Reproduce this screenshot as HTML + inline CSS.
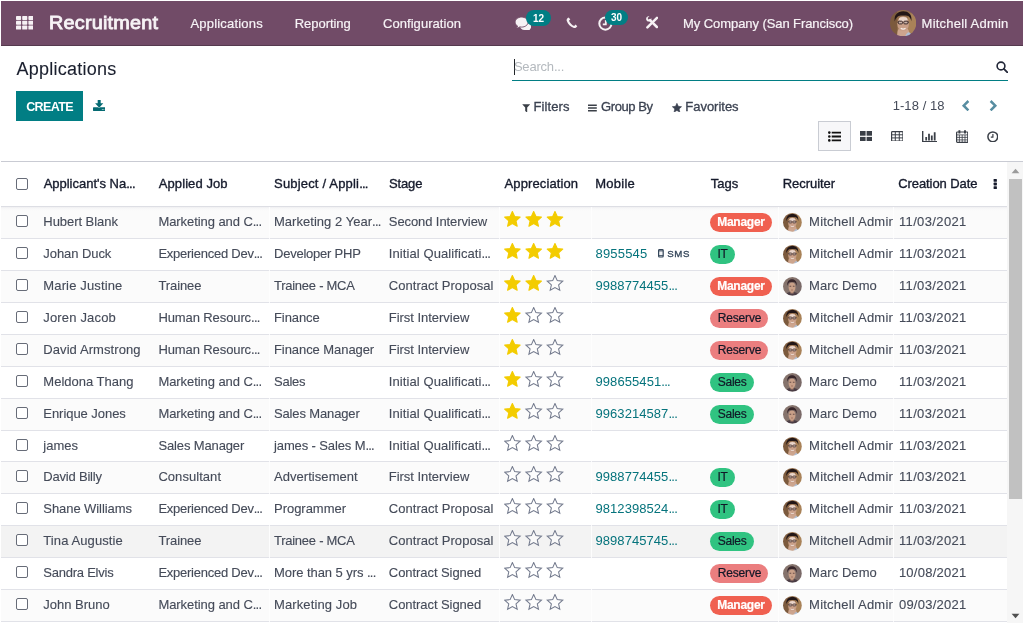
<!DOCTYPE html>
<html lang="en">
<head>
<meta charset="utf-8">
<title>Odoo - Applications</title>
<style>
*{box-sizing:border-box}
html,body{margin:0;padding:0}
body{width:1024px;height:623px;overflow:hidden;background:#fff;font-family:"Liberation Sans",Arial,sans-serif;font-size:13px;line-height:15px;color:#454b59;position:relative}
a{text-decoration:none;color:inherit}
svg{display:block}
h1,button{margin:0;font:inherit}
.abs,.nav a,.nav span,.cp a,.cp span,.cp h1,.hd span,.r span,.r a{position:absolute;white-space:nowrap}
.el{position:static!important;letter-spacing:-.75px}
/* navbar */
.nav{position:absolute;left:1px;top:1px;width:1022px;height:45px;background:#714b67;border-bottom:1px solid #553a4e;color:#f7f3f6}
.brand{font-size:18.2px;line-height:24px;color:#f7f3f6;-webkit-text-stroke:.8px #f7f3f6;transform:scaleX(1.09);transform-origin:0 50%}
.mi{-webkit-text-stroke:.2px #f7f3f6}
.badge{background:#017e84;color:#fff;font-size:10px;font-weight:bold;line-height:15px;height:15.3px;border-radius:8px;text-align:center;overflow:hidden}
/* control panel */
.cp{position:absolute;left:1px;top:46px;width:1022px;height:116px;border-bottom:1px solid #c9cbd3;background:#fff}
.cp h1{font-size:18px;line-height:24px;color:#1a1f2e;font-weight:normal;-webkit-text-stroke:.1px #1a1f2e}
.search{position:absolute;left:511px;top:8px;width:496px;height:27px;border-bottom:1px solid #017e84}
.ph{color:#b4b9be}
.caret{width:1px;height:16px;background:#212529}
.btn-create{position:absolute;left:15px;top:45px;width:67px;height:30px;background:#017e84;border:0;padding:0;color:#fff}
.btn-create span{font-weight:bold;font-size:12.5px;line-height:15px;color:#fff}
.fb{color:#3b4251;-webkit-text-stroke:.3px #3b4251}
.vact{left:817px;top:75px;width:33px;height:30px;background:#f7f7f9;border:1px solid #c9ccd3}
/* list */
.list{position:absolute;left:1px;top:162px;width:1006px;height:461px;overflow:hidden;background:#fff}
.hd{position:absolute;left:0;top:0;width:100%;height:45px;border-bottom:1px solid #dddee4}
.h{color:#161b2c;-webkit-text-stroke:.35px #161b2c}
.r{position:absolute;left:0;width:100%;border-bottom:1px solid #e1e2e8;background:#fff}
.r.odd{background:#fbfbfb}
.r.hov{background:#f3f3f3}
.r.first{background:linear-gradient(#eeeef1,#f5f5f6 1px,#f8f8f9 2px,#fbfbfb 4px)}
.cb{left:15px;top:8px;width:12px;height:12px;border:1px solid #676c78;border-radius:2px;background:#fff}
.c{-webkit-text-stroke:.12px #454b59}
.tel{color:#05737c}
.tag{height:19px;border-radius:9.5px}
.tag b{position:absolute;font-weight:normal;font-size:12px;line-height:15px;top:2px;white-space:nowrap;-webkit-text-stroke:.2px currentColor}
.tm b{font-weight:bold}
.rec{overflow:hidden;height:15px}
.sms{font-size:9.7px;line-height:12px;color:#34465a;-webkit-text-stroke:.32px #34465a}
.gap{position:absolute;top:45px;bottom:0;width:1px;background:rgba(255,255,255,.8)}
/* scrollbar */
.sb{position:absolute;left:1007px;top:162px;width:16px;height:461px;background:#f6f6f6}
.thumb{position:absolute;left:2px;top:17px;width:13px;height:320px;background:#c1c1c1}
</style>
</head>
<body>

<nav class="nav">
<a title="Home Menu" style="left:14.7px;top:15.3px"><svg width="17.6" height="13.8" viewBox="0 0 17.6 13.8" aria-hidden="true"><rect x="0" y="0" width="5.1" height="4" rx=".7" fill="#f6f1f4"/><rect x="6.2" y="0" width="5.1" height="4" rx=".7" fill="#f6f1f4"/><rect x="12.4" y="0" width="5.1" height="4" rx=".7" fill="#f6f1f4"/><rect x="0" y="4.8" width="5.1" height="4" rx=".7" fill="#f6f1f4"/><rect x="6.2" y="4.8" width="5.1" height="4" rx=".7" fill="#f6f1f4"/><rect x="12.4" y="4.8" width="5.1" height="4" rx=".7" fill="#f6f1f4"/><rect x="0" y="9.6" width="5.1" height="4" rx=".7" fill="#f6f1f4"/><rect x="6.2" y="9.6" width="5.1" height="4" rx=".7" fill="#f6f1f4"/><rect x="12.4" y="9.6" width="5.1" height="4" rx=".7" fill="#f6f1f4"/></svg></a>
<a id="t1" class="brand" style="left:48.04px;top:10px;letter-spacing:0.2px;">Recruitment</a>
<a id="t2" class="mi" style="left:189.42px;top:15px;letter-spacing:0.2px;">Applications</a>
<a id="t3" class="mi" style="left:293.73px;top:15px;letter-spacing:-0.04px;">Reporting</a>
<a id="t4" class="mi" style="left:381.95px;top:15px;letter-spacing:0.06px;">Configuration</a>
<svg style="position:absolute;left:513.8px;top:15.9px;" width="16.6" height="13.4" viewBox="0 0 16.6 13.4" aria-hidden="true"><path d="M10.7 5.6c3.1 0 5.7 1.7 5.7 3.9 0 1.1-.7 2.1-1.8 2.8.2.4.7.9 1.4 1.1-1.3.1-2.5-.1-3.5-.5-.6.1-1.2.2-1.8.2-3.1 0-5.7-1.7-5.7-3.7s2.6-3.8 5.7-3.8z" fill="#f6f1f4"/><path d="M6.6.100c3.6 0 6.5 2.2 6.5 5s-2.9 5-6.5 5c-.6 0-1.2-.1-1.8-.2-1 .8-2.3 1.2-3.6 1.2.7-.6 1.2-1.3 1.4-2C1 8.2.100 6.7.100 5.1c0-2.8 2.9-5 6.5-5z" fill="#f6f1f4" stroke="#714b67" stroke-width=".9"/></svg>
<span class="badge" style="left:525.1px;top:9px;width:24.9px;height:16px;line-height:17px">12</span>
<svg style="position:absolute;left:565.4px;top:15.9px;" width="11.6" height="11.4" viewBox="0 0 11.6 11.4" aria-hidden="true"><path d="M2.5.400C1.1 1.2.300 2.4.700 3.8 1.9 7.3 4.4 9.9 7.9 11c1.4.4 2.6-.3 3.4-1.7L9.5 7.6 8.2 8.9C6 8.2 3.7 5.8 3 3.7L4.3 2.3z" fill="#f6f1f4"/></svg>
<svg style="position:absolute;left:596.6px;top:14.8px;" width="15" height="15" viewBox="0 0 15 15" aria-hidden="true"><circle cx="7.4" cy="7.6" r="6.1" fill="none" stroke="#f6f1f4" stroke-width="2"/><path d="M7.8 4V8.3H4.8" fill="none" stroke="#f6f1f4" stroke-width="1.8"/></svg>
<span class="badge" style="left:603.8px;top:9px;width:23.6px">30</span>
<svg style="position:absolute;left:644.8px;top:15.4px;" width="12.4" height="12.8" viewBox="0 0 12.4 12.8" aria-hidden="true"><path d="M1.4 11.4L11 1.8" stroke="#f6f1f4" stroke-width="2.5" stroke-linecap="round"/><path d="M10.9 11L4 4.1" stroke="#f6f1f4" stroke-width="2.5" stroke-linecap="round"/><path d="M2.7.300C1.3.300.1 1.5.100 2.9s1.2 2.7 2.7 2.7c1.4 0 2.6-1.2 2.6-2.6 0-.3 0-.6-.1-.8L3.7 3.7 2.1 3.3 1.7 1.7 3.4.400C3.2.300 2.9.300 2.7.300z" fill="#f6f1f4"/></svg>
<a id="t5" class="mi" style="left:682.11px;top:15px;letter-spacing:-0.08px;">My Company (San Francisco)</a>
<svg style="position:absolute;left:888.8px;top:8.9px;" width="26.3" height="26.3" viewBox="0 0 24 24" aria-hidden="true"><clipPath id="cp1"><circle cx="12" cy="12" r="12"/></clipPath><filter id="bl1" x="-10%" y="-10%" width="120%" height="120%"><feGaussianBlur stdDeviation=".55"/></filter><g clip-path="url(#cp1)"><g filter="url(#bl1)"><rect width="24" height="24" fill="#916d4b"/><rect x="0" y="0" width="6.5" height="24" fill="#7c5a3d"/><rect x="16.5" y="3" width="7.5" height="18" fill="#a98258"/><path d="M4.3 10.5C3.5 4.5 7 1.2 12 1.2s8.3 3 7.5 9c-.5-2-1.3-3.6-3-4.7-2.5-.5-6-.5-8.6 0-1.9 1.2-3 2.8-3.6 5z" fill="#231718"/><path d="M6.5 24c.2-6 1-8.5 5.5-8.5s5.5 2.5 6 8.5z" fill="#cda58e"/><ellipse cx="12" cy="12.6" rx="5.3" ry="6.9" fill="#c99f88"/><ellipse cx="12" cy="8.4" rx="3.9" ry="2" fill="#ead5ca"/><rect x="7.6" y="10.2" width="3.8" height="2.5" rx=".9" fill="#c9b3a8" stroke="#3a2a2a" stroke-width=".9"/><rect x="12.6" y="10.2" width="3.8" height="2.5" rx=".9" fill="#c9b3a8" stroke="#3a2a2a" stroke-width=".9"/><path d="M6.7 11h1M16.3 11h1" stroke="#3a2a2a" stroke-width=".8"/><path d="M9.8 16.6c1.3.9 3.1.9 4.4 0" stroke="#f7efeb" stroke-width="1.1" fill="none"/><path d="M14 24c.5-2 1.5-3 3-3.6 1.5.6 3 1.6 3.5 3.6z" fill="#aebfd6"/></g></g></svg>
<a id="t6" class="mi" style="left:920.61px;top:15px;letter-spacing:0.22px;">Mitchell Admin</a>
</nav>
<header class="cp">
<h1 id="t7" style="left:15.4px;top:11px;letter-spacing:0.26px;">Applications</h1>
<div class="search">
<span class="caret" style="left:2.3px;top:5px"></span>
<span id="t8" class="ph" style="left:1.9px;top:5px;letter-spacing:-.2px;">Search...</span>
<svg style="position:absolute;left:484px;top:7px;" width="12.4" height="12.4" viewBox="0 0 12.4 12.4" aria-hidden="true"><circle cx="5" cy="5" r="3.9" fill="none" stroke="#222738" stroke-width="1.6"/><path d="M7.9 7.9L11.5 11.5" stroke="#222738" stroke-width="1.8" stroke-linecap="round"/></svg>
</div>
<button class="btn-create"><span id="t9" style="left:10.17px;top:9px;letter-spacing:-0.62px;">CREATE</span></button>
<svg style="position:absolute;left:92px;top:54.2px;" width="12.4" height="11" viewBox="0 0 12.4 11" aria-hidden="true"><rect x="0" y="7.2" width="12.3" height="3.8" rx=".5" fill="#056a72"/><path d="M4.7 0h3v3.3h2.6L6.2 7.7 2.1 3.3h2.6z" fill="#056a72" stroke="#fff" stroke-width=".9" paint-order="stroke"/><circle cx="9.3" cy="9.5" r=".5" fill="#cfeae6"/><circle cx="10.9" cy="9.5" r=".5" fill="#cfeae6"/></svg>
<svg style="position:absolute;left:520.9px;top:57.5px;" width="8.4" height="8.6" viewBox="0 0 8.4 8.6" aria-hidden="true"><path d="M.2.3h8L5.2 3.6v5L3.2 7.1V3.6z" fill="#3a3f47"/></svg>
<span id="t10" class="fb" style="left:532.42px;top:53px;letter-spacing:0.13px;">Filters</span>
<svg style="position:absolute;left:587.3px;top:58px;" width="8.8" height="8" viewBox="0 0 8.8 8" aria-hidden="true"><path d="M0 1.2h8.8M0 4h8.8M0 6.8h8.8" stroke="#3a3f47" stroke-width="1.35"/></svg>
<span id="t11" class="fb" style="left:600.09px;top:53px;letter-spacing:-0.42px;">Group By</span>
<svg style="position:absolute;left:671.3px;top:56.6px;" width="10" height="9.6" viewBox="0 0 24 23" aria-hidden="true"><path d="M11.8 0.8L15.1 8L22.9 8.8L17 14.1L18.7 21.8L11.8 17.9L5 21.8L6.7 14.1L0.8 8.8L8.6 8z" fill="#3b4251" stroke="#3b4251" stroke-width="1.5" stroke-linejoin="round"/></svg>
<span id="t12" class="fb" style="left:684.31px;top:53px;letter-spacing:-0.02px;">Favorites</span>
<span id="t13" style="left:891.64px;top:52px;letter-spacing:0.08px;">1-18 / 18</span>
<svg style="position:absolute;left:960.4px;top:54.1px;" width="9" height="11.4" viewBox="0 0 9 11.4" aria-hidden="true"><path d="M7.4 1L2.7 5.7l4.7 4.7" fill="none" stroke="#578da1" stroke-width="2.5"/></svg>
<svg style="position:absolute;left:987.6px;top:54.1px;" width="9" height="11.4" viewBox="0 0 9 11.4" aria-hidden="true"><path d="M1.6 1L6.3 5.7 1.6 10.4" fill="none" stroke="#578da1" stroke-width="2.5"/></svg>
<span class="vact"></span>
<svg style="position:absolute;left:827px;top:84.6px;" width="13" height="11" viewBox="0 0 13 11" aria-hidden="true"><path d="M3.7 1.6h9.3M3.7 5.5h9.3M3.7 9.4h9.3" stroke="#111" stroke-width="1.9"/><circle cx="1.3" cy="1.6" r="1.3" fill="#111"/><circle cx="1.3" cy="5.5" r="1.3" fill="#111"/><circle cx="1.3" cy="9.4" r="1.3" fill="#111"/></svg>
<svg style="position:absolute;left:858.8px;top:84.8px;" width="12.2" height="10.6" viewBox="0 0 12.2 10.6" aria-hidden="true"><rect x="0" y="0" width="5.6" height="4.7" fill="#3a3f47"/><rect x="6.6" y="0" width="5.6" height="4.7" fill="#3a3f47"/><rect x="0" y="5.9" width="5.6" height="4.7" fill="#3a3f47"/><rect x="6.6" y="5.9" width="5.6" height="4.7" fill="#3a3f47"/></svg>
<svg style="position:absolute;left:889.6px;top:84.9px;" width="12.6" height="10.6" viewBox="0 0 12.6 10.6" aria-hidden="true"><rect x=".6" y=".6" width="11.4" height="9.4" rx=".8" fill="none" stroke="#3a3f47" stroke-width="1.2"/><path d="M.6 3.8H12M.6 6.9H12M4.3.600V10M8.3.600V10" stroke="#3a3f47" stroke-width="1"/></svg>
<svg style="position:absolute;left:920.7px;top:84.6px;" width="15.4" height="11.4" viewBox="0 0 15.4 11.4" aria-hidden="true"><path d="M.7 0v10.7h14.7" fill="none" stroke="#3a3f47" stroke-width="1.4"/><path d="M4.2 6v3.6M7 2.7v6.9M9.8 4.4v5.2M12.7 1.3v8.3" stroke="#3a3f47" stroke-width="1.8"/></svg>
<svg style="position:absolute;left:955px;top:84px;" width="12.4" height="13" viewBox="0 0 12.4 13" aria-hidden="true"><rect x=".6" y="2" width="11.2" height="10.4" rx=".8" fill="none" stroke="#3a3f47" stroke-width="1.2"/><path d="M.6 4.9h11.2M.6 7.4h11.2M.6 9.9h11.2M3.4 4.9v7.5M6.2 4.9v7.5M9 4.9v7.5" stroke="#3a3f47" stroke-width=".8"/><path d="M3.4 .2v3.2M9 .2v3.2" stroke="#3a3f47" stroke-width="1.9"/></svg>
<svg style="position:absolute;left:985.8px;top:84.5px;" width="11.6" height="11.6" viewBox="0 0 11.6 11.6" aria-hidden="true"><circle cx="5.8" cy="5.8" r="4.9" fill="none" stroke="#3a3f47" stroke-width="1.5"/><path d="M5.9 3.1V6.1H3.8" fill="none" stroke="#3a3f47" stroke-width="1.2"/></svg>
</header>
<main class="list" role="table" aria-label="Applications">
<div class="hd" role="row"><span class="cb" style="top:16px"></span>
<span id="t14" class="h" style="left:42.63px;top:14px;letter-spacing:-0.01px;">Applicant's Na<span class="el">...</span></span>
<span id="t15" class="h" style="left:157.81px;top:14px;letter-spacing:0.08px;">Applied Job</span>
<span id="t16" class="h" style="left:273.04px;top:14px;letter-spacing:0.18px;">Subject / Appli<span class="el">...</span></span>
<span id="t17" class="h" style="left:387.9px;top:14px;letter-spacing:-0.12px;">Stage</span>
<span id="t18" class="h" style="left:503.57px;top:14px;letter-spacing:0.11px;">Appreciation</span>
<span id="t19" class="h" style="left:594.27px;top:14px;letter-spacing:0.25px;">Mobile</span>
<span id="t20" class="h" style="left:709.87px;top:14px;letter-spacing:-0.01px;">Tags</span>
<span id="t21" class="h" style="left:781.63px;top:14px;letter-spacing:-0.03px;">Recruiter</span>
<span id="t22" class="h" style="left:897.2px;top:14px;letter-spacing:-0.08px;">Creation Date</span>
<svg style="position:absolute;left:992.3px;top:17.1px;" width="4.6" height="10" viewBox="0 0 4.6 10" aria-hidden="true"><rect x=".6" y="0" width="3.3" height="2.8" rx=".6" fill="#161b2c"/><rect x=".6" y="3.6" width="3.3" height="2.8" rx=".6" fill="#161b2c"/><rect x=".6" y="7.2" width="3.3" height="2.8" rx=".6" fill="#161b2c"/></svg>
</div>
<div class="r odd first" role="row" style="top:45px;height:32px">
<span class="cb"></span>
<span id="t23" class="c" style="left:42.3px;top:7px;letter-spacing:-0.05px;">Hubert Blank</span>
<span id="t24" class="c" style="left:157.4px;top:7px;letter-spacing:-0.07px;">Marketing and C<span class="el">...</span></span>
<span id="t25" class="c" style="left:273px;top:7px;letter-spacing:0.03px;">Marketing 2 Year<span class="el">...</span></span>
<span id="t26" class="c" style="left:387.8px;top:7px;letter-spacing:-0.09px;">Second Interview</span>
<svg style="position:absolute;left:503px;top:4px;" width="60" height="17" viewBox="0 0 60 17" aria-hidden="true"><path transform="translate(0.1 0) scale(.7)" d="M11.8 0.8L15.1 8L22.9 8.8L17 14.1L18.7 21.8L11.8 17.9L5 21.8L6.7 14.1L0.8 8.8L8.6 8z" fill="#f3cc00" stroke="#f3cc00" stroke-width="1.6" stroke-linejoin="round"/><path transform="translate(21.4 0) scale(.7)" d="M11.8 0.8L15.1 8L22.9 8.8L17 14.1L18.7 21.8L11.8 17.9L5 21.8L6.7 14.1L0.8 8.8L8.6 8z" fill="#f3cc00" stroke="#f3cc00" stroke-width="1.6" stroke-linejoin="round"/><path transform="translate(42.7 0) scale(.7)" d="M11.8 0.8L15.1 8L22.9 8.8L17 14.1L18.7 21.8L11.8 17.9L5 21.8L6.7 14.1L0.8 8.8L8.6 8z" fill="#f3cc00" stroke="#f3cc00" stroke-width="1.6" stroke-linejoin="round"/></svg>
<span class="tag tm" style="left:709px;top:6px;width:62.1px;background:#f06050;color:#fff"><b id="g27" style="left:7.2px;letter-spacing:-0.25px;">Manager</b></span>
<svg style="position:absolute;left:782.1px;top:6px;" width="18.8" height="18.8" viewBox="0 0 24 24" aria-hidden="true"><clipPath id="cp2"><circle cx="12" cy="12" r="12"/></clipPath><filter id="bl2" x="-10%" y="-10%" width="120%" height="120%"><feGaussianBlur stdDeviation=".55"/></filter><g clip-path="url(#cp2)"><g filter="url(#bl2)"><rect width="24" height="24" fill="#916d4b"/><rect x="0" y="0" width="6.5" height="24" fill="#7c5a3d"/><rect x="16.5" y="3" width="7.5" height="18" fill="#a98258"/><path d="M4.3 10.5C3.5 4.5 7 1.2 12 1.2s8.3 3 7.5 9c-.5-2-1.3-3.6-3-4.7-2.5-.5-6-.5-8.6 0-1.9 1.2-3 2.8-3.6 5z" fill="#231718"/><path d="M6.5 24c.2-6 1-8.5 5.5-8.5s5.5 2.5 6 8.5z" fill="#cda58e"/><ellipse cx="12" cy="12.6" rx="5.3" ry="6.9" fill="#c99f88"/><ellipse cx="12" cy="8.4" rx="3.9" ry="2" fill="#ead5ca"/><rect x="7.6" y="10.2" width="3.8" height="2.5" rx=".9" fill="#c9b3a8" stroke="#3a2a2a" stroke-width=".9"/><rect x="12.6" y="10.2" width="3.8" height="2.5" rx=".9" fill="#c9b3a8" stroke="#3a2a2a" stroke-width=".9"/><path d="M6.7 11h1M16.3 11h1" stroke="#3a2a2a" stroke-width=".8"/><path d="M9.8 16.6c1.3.9 3.1.9 4.4 0" stroke="#f7efeb" stroke-width="1.1" fill="none"/><path d="M14 24c.5-2 1.5-3 3-3.6 1.5.6 3 1.6 3.5 3.6z" fill="#aebfd6"/></g></g></svg>
<span class="c rec" style="left:808.1px;top:7px;width:83.7px;letter-spacing:0.22px;">Mitchell Admin</span>
<span id="t28" class="c" style="left:897.9px;top:7px;letter-spacing:0.37px;">11/03/2021</span>
</div>
<div class="r" role="row" style="top:77px;height:32px">
<span class="cb"></span>
<span id="t29" class="c" style="left:42.3px;top:7px;letter-spacing:-0.07px;">Johan Duck</span>
<span id="t30" class="c" style="left:157.4px;top:7px;letter-spacing:-0.25px;">Experienced Dev<span class="el">...</span></span>
<span id="t31" class="c" style="left:273px;top:7px;letter-spacing:-0.23px;">Developer PHP</span>
<span id="t32" class="c" style="left:387.8px;top:7px;letter-spacing:0.09px;">Initial Qualificati<span class="el">...</span></span>
<svg style="position:absolute;left:503px;top:4px;" width="60" height="17" viewBox="0 0 60 17" aria-hidden="true"><path transform="translate(0.1 0) scale(.7)" d="M11.8 0.8L15.1 8L22.9 8.8L17 14.1L18.7 21.8L11.8 17.9L5 21.8L6.7 14.1L0.8 8.8L8.6 8z" fill="#f3cc00" stroke="#f3cc00" stroke-width="1.6" stroke-linejoin="round"/><path transform="translate(21.4 0) scale(.7)" d="M11.8 0.8L15.1 8L22.9 8.8L17 14.1L18.7 21.8L11.8 17.9L5 21.8L6.7 14.1L0.8 8.8L8.6 8z" fill="#f3cc00" stroke="#f3cc00" stroke-width="1.6" stroke-linejoin="round"/><path transform="translate(42.7 0) scale(.7)" d="M11.8 0.8L15.1 8L22.9 8.8L17 14.1L18.7 21.8L11.8 17.9L5 21.8L6.7 14.1L0.8 8.8L8.6 8z" fill="#f3cc00" stroke="#f3cc00" stroke-width="1.6" stroke-linejoin="round"/></svg>
<a id="t33" class="tel" style="left:594.5px;top:7px;letter-spacing:0.19px;">8955545</a>
<svg style="position:absolute;left:657.2px;top:10.3px;" width="5.8" height="8.6" viewBox="0 0 5.8 8.6" aria-hidden="true"><rect x=".6" y=".6" width="4.6" height="7.4" rx=".9" fill="#f1f2f4" stroke="#34465a" stroke-width="1.2"/><path d="M.6 1.9h4.6M.6 6.6h4.6" stroke="#34465a" stroke-width=".9"/></svg>
<span id="t34" class="sms" style="left:666.13px;top:8.5px;letter-spacing:0.61px;">SMS</span>
<span class="tag ti" style="left:709px;top:6px;width:25px;background:#30c381;color:#111827"><b id="g35" style="left:7.5px;letter-spacing:-0.35px;">IT</b></span>
<svg style="position:absolute;left:782.1px;top:6px;" width="18.8" height="18.8" viewBox="0 0 24 24" aria-hidden="true"><clipPath id="cp3"><circle cx="12" cy="12" r="12"/></clipPath><filter id="bl3" x="-10%" y="-10%" width="120%" height="120%"><feGaussianBlur stdDeviation=".55"/></filter><g clip-path="url(#cp3)"><g filter="url(#bl3)"><rect width="24" height="24" fill="#916d4b"/><rect x="0" y="0" width="6.5" height="24" fill="#7c5a3d"/><rect x="16.5" y="3" width="7.5" height="18" fill="#a98258"/><path d="M4.3 10.5C3.5 4.5 7 1.2 12 1.2s8.3 3 7.5 9c-.5-2-1.3-3.6-3-4.7-2.5-.5-6-.5-8.6 0-1.9 1.2-3 2.8-3.6 5z" fill="#231718"/><path d="M6.5 24c.2-6 1-8.5 5.5-8.5s5.5 2.5 6 8.5z" fill="#cda58e"/><ellipse cx="12" cy="12.6" rx="5.3" ry="6.9" fill="#c99f88"/><ellipse cx="12" cy="8.4" rx="3.9" ry="2" fill="#ead5ca"/><rect x="7.6" y="10.2" width="3.8" height="2.5" rx=".9" fill="#c9b3a8" stroke="#3a2a2a" stroke-width=".9"/><rect x="12.6" y="10.2" width="3.8" height="2.5" rx=".9" fill="#c9b3a8" stroke="#3a2a2a" stroke-width=".9"/><path d="M6.7 11h1M16.3 11h1" stroke="#3a2a2a" stroke-width=".8"/><path d="M9.8 16.6c1.3.9 3.1.9 4.4 0" stroke="#f7efeb" stroke-width="1.1" fill="none"/><path d="M14 24c.5-2 1.5-3 3-3.6 1.5.6 3 1.6 3.5 3.6z" fill="#aebfd6"/></g></g></svg>
<span class="c rec" style="left:808.1px;top:7px;width:83.7px;letter-spacing:0.22px;">Mitchell Admin</span>
<span id="t36" class="c" style="left:897.9px;top:7px;letter-spacing:0.37px;">11/03/2021</span>
</div>
<div class="r odd" role="row" style="top:109px;height:32px">
<span class="cb"></span>
<span id="t37" class="c" style="left:42.3px;top:7px;letter-spacing:0.14px;">Marie Justine</span>
<span id="t38" class="c" style="left:157.4px;top:7px;letter-spacing:-0.09px;">Trainee</span>
<span id="t39" class="c" style="left:273px;top:7px;letter-spacing:-0.26px;">Trainee - MCA</span>
<span id="t40" class="c" style="left:387.8px;top:7px;letter-spacing:0.03px;">Contract Proposal</span>
<svg style="position:absolute;left:503px;top:4px;" width="60" height="17" viewBox="0 0 60 17" aria-hidden="true"><path transform="translate(0.1 0) scale(.7)" d="M11.8 0.8L15.1 8L22.9 8.8L17 14.1L18.7 21.8L11.8 17.9L5 21.8L6.7 14.1L0.8 8.8L8.6 8z" fill="#f3cc00" stroke="#f3cc00" stroke-width="1.6" stroke-linejoin="round"/><path transform="translate(21.4 0) scale(.7)" d="M11.8 0.8L15.1 8L22.9 8.8L17 14.1L18.7 21.8L11.8 17.9L5 21.8L6.7 14.1L0.8 8.8L8.6 8z" fill="#f3cc00" stroke="#f3cc00" stroke-width="1.6" stroke-linejoin="round"/><path transform="translate(42.7 0) scale(.7)" d="M11.8 0.8L15.1 8L22.9 8.8L17 14.1L18.7 21.8L11.8 17.9L5 21.8L6.7 14.1L0.8 8.8L8.6 8z" fill="#fff" fill-opacity=".5" stroke="#737a8d" stroke-width="1.5" stroke-linejoin="miter"/></svg>
<a id="t41" class="tel" style="left:594.5px;top:7px;letter-spacing:0.06px;">9988774455<span class="el">...</span></a>
<span class="tag tm" style="left:709px;top:6px;width:62.1px;background:#f06050;color:#fff"><b id="g42" style="left:7.2px;letter-spacing:-0.25px;">Manager</b></span>
<svg style="position:absolute;left:782.1px;top:6px;" width="18.8" height="18.8" viewBox="0 0 24 24" aria-hidden="true"><clipPath id="cp4"><circle cx="12" cy="12" r="12"/></clipPath><filter id="bl4" x="-10%" y="-10%" width="120%" height="120%"><feGaussianBlur stdDeviation=".55"/></filter><g clip-path="url(#cp4)"><g filter="url(#bl4)"><rect width="24" height="24" fill="#85736c"/><rect x="17" y="0" width="7" height="24" fill="#7a6a68"/><path d="M5.5 11.5C4.8 6 7.5 3 11.5 3s6.7 3 6 8.5c-.6-2.5-1.5-4-3-4.8H8.5c-1.5.8-2.4 2.3-3 4.8z" fill="#38272c"/><path d="M3 24c.3-3 3-4.8 8.5-4.8s8.2 1.8 8.5 4.8z" fill="#4b3d44"/><rect x="9.5" y="17" width="4" height="4" fill="#b98f78"/><ellipse cx="11.5" cy="13" rx="4.3" ry="6" fill="#c9a088"/><path d="M8.3 11.8h2.2M12.6 11.8h2.2" stroke="#4a3434" stroke-width="1"/><path d="M10.3 16.6h2.5" stroke="#8a5a4c" stroke-width=".8"/></g></g></svg>
<span id="t43" class="c" style="left:808.1px;top:7px;letter-spacing:0.06px;">Marc Demo</span>
<span id="t44" class="c" style="left:897.9px;top:7px;letter-spacing:0.37px;">11/03/2021</span>
</div>
<div class="r" role="row" style="top:141px;height:32px">
<span class="cb"></span>
<span id="t45" class="c" style="left:42.3px;top:7px;letter-spacing:0.17px;">Joren Jacob</span>
<span id="t46" class="c" style="left:157.4px;top:7px;letter-spacing:-0.1px;">Human Resourc<span class="el">...</span></span>
<span id="t47" class="c" style="left:273px;top:7px;letter-spacing:-0.09px;">Finance</span>
<span id="t48" class="c" style="left:387.8px;top:7px;letter-spacing:-0.03px;">First Interview</span>
<svg style="position:absolute;left:503px;top:4px;" width="60" height="17" viewBox="0 0 60 17" aria-hidden="true"><path transform="translate(0.1 0) scale(.7)" d="M11.8 0.8L15.1 8L22.9 8.8L17 14.1L18.7 21.8L11.8 17.9L5 21.8L6.7 14.1L0.8 8.8L8.6 8z" fill="#f3cc00" stroke="#f3cc00" stroke-width="1.6" stroke-linejoin="round"/><path transform="translate(21.4 0) scale(.7)" d="M11.8 0.8L15.1 8L22.9 8.8L17 14.1L18.7 21.8L11.8 17.9L5 21.8L6.7 14.1L0.8 8.8L8.6 8z" fill="#fff" fill-opacity=".5" stroke="#737a8d" stroke-width="1.5" stroke-linejoin="miter"/><path transform="translate(42.7 0) scale(.7)" d="M11.8 0.8L15.1 8L22.9 8.8L17 14.1L18.7 21.8L11.8 17.9L5 21.8L6.7 14.1L0.8 8.8L8.6 8z" fill="#fff" fill-opacity=".5" stroke="#737a8d" stroke-width="1.5" stroke-linejoin="miter"/></svg>
<span class="tag tr" style="left:709px;top:6px;width:58.1px;background:#eb7e7f;color:#111827"><b id="g49" style="left:7.7px;letter-spacing:-0.15px;">Reserve</b></span>
<svg style="position:absolute;left:782.1px;top:6px;" width="18.8" height="18.8" viewBox="0 0 24 24" aria-hidden="true"><clipPath id="cp5"><circle cx="12" cy="12" r="12"/></clipPath><filter id="bl5" x="-10%" y="-10%" width="120%" height="120%"><feGaussianBlur stdDeviation=".55"/></filter><g clip-path="url(#cp5)"><g filter="url(#bl5)"><rect width="24" height="24" fill="#916d4b"/><rect x="0" y="0" width="6.5" height="24" fill="#7c5a3d"/><rect x="16.5" y="3" width="7.5" height="18" fill="#a98258"/><path d="M4.3 10.5C3.5 4.5 7 1.2 12 1.2s8.3 3 7.5 9c-.5-2-1.3-3.6-3-4.7-2.5-.5-6-.5-8.6 0-1.9 1.2-3 2.8-3.6 5z" fill="#231718"/><path d="M6.5 24c.2-6 1-8.5 5.5-8.5s5.5 2.5 6 8.5z" fill="#cda58e"/><ellipse cx="12" cy="12.6" rx="5.3" ry="6.9" fill="#c99f88"/><ellipse cx="12" cy="8.4" rx="3.9" ry="2" fill="#ead5ca"/><rect x="7.6" y="10.2" width="3.8" height="2.5" rx=".9" fill="#c9b3a8" stroke="#3a2a2a" stroke-width=".9"/><rect x="12.6" y="10.2" width="3.8" height="2.5" rx=".9" fill="#c9b3a8" stroke="#3a2a2a" stroke-width=".9"/><path d="M6.7 11h1M16.3 11h1" stroke="#3a2a2a" stroke-width=".8"/><path d="M9.8 16.6c1.3.9 3.1.9 4.4 0" stroke="#f7efeb" stroke-width="1.1" fill="none"/><path d="M14 24c.5-2 1.5-3 3-3.6 1.5.6 3 1.6 3.5 3.6z" fill="#aebfd6"/></g></g></svg>
<span class="c rec" style="left:808.1px;top:7px;width:83.7px;letter-spacing:0.22px;">Mitchell Admin</span>
<span id="t50" class="c" style="left:897.9px;top:7px;letter-spacing:0.37px;">11/03/2021</span>
</div>
<div class="r odd" role="row" style="top:173px;height:32px">
<span class="cb"></span>
<span id="t51" class="c" style="left:42.3px;top:7px;letter-spacing:0.08px;">David Armstrong</span>
<span id="t52" class="c" style="left:157.4px;top:7px;letter-spacing:-0.1px;">Human Resourc<span class="el">...</span></span>
<span id="t53" class="c" style="left:273px;top:7px;letter-spacing:-0.07px;">Finance Manager</span>
<span id="t54" class="c" style="left:387.8px;top:7px;letter-spacing:-0.03px;">First Interview</span>
<svg style="position:absolute;left:503px;top:4px;" width="60" height="17" viewBox="0 0 60 17" aria-hidden="true"><path transform="translate(0.1 0) scale(.7)" d="M11.8 0.8L15.1 8L22.9 8.8L17 14.1L18.7 21.8L11.8 17.9L5 21.8L6.7 14.1L0.8 8.8L8.6 8z" fill="#f3cc00" stroke="#f3cc00" stroke-width="1.6" stroke-linejoin="round"/><path transform="translate(21.4 0) scale(.7)" d="M11.8 0.8L15.1 8L22.9 8.8L17 14.1L18.7 21.8L11.8 17.9L5 21.8L6.7 14.1L0.8 8.8L8.6 8z" fill="#fff" fill-opacity=".5" stroke="#737a8d" stroke-width="1.5" stroke-linejoin="miter"/><path transform="translate(42.7 0) scale(.7)" d="M11.8 0.8L15.1 8L22.9 8.8L17 14.1L18.7 21.8L11.8 17.9L5 21.8L6.7 14.1L0.8 8.8L8.6 8z" fill="#fff" fill-opacity=".5" stroke="#737a8d" stroke-width="1.5" stroke-linejoin="miter"/></svg>
<span class="tag tr" style="left:709px;top:6px;width:58.1px;background:#eb7e7f;color:#111827"><b id="g55" style="left:7.7px;letter-spacing:-0.15px;">Reserve</b></span>
<svg style="position:absolute;left:782.1px;top:6px;" width="18.8" height="18.8" viewBox="0 0 24 24" aria-hidden="true"><clipPath id="cp6"><circle cx="12" cy="12" r="12"/></clipPath><filter id="bl6" x="-10%" y="-10%" width="120%" height="120%"><feGaussianBlur stdDeviation=".55"/></filter><g clip-path="url(#cp6)"><g filter="url(#bl6)"><rect width="24" height="24" fill="#916d4b"/><rect x="0" y="0" width="6.5" height="24" fill="#7c5a3d"/><rect x="16.5" y="3" width="7.5" height="18" fill="#a98258"/><path d="M4.3 10.5C3.5 4.5 7 1.2 12 1.2s8.3 3 7.5 9c-.5-2-1.3-3.6-3-4.7-2.5-.5-6-.5-8.6 0-1.9 1.2-3 2.8-3.6 5z" fill="#231718"/><path d="M6.5 24c.2-6 1-8.5 5.5-8.5s5.5 2.5 6 8.5z" fill="#cda58e"/><ellipse cx="12" cy="12.6" rx="5.3" ry="6.9" fill="#c99f88"/><ellipse cx="12" cy="8.4" rx="3.9" ry="2" fill="#ead5ca"/><rect x="7.6" y="10.2" width="3.8" height="2.5" rx=".9" fill="#c9b3a8" stroke="#3a2a2a" stroke-width=".9"/><rect x="12.6" y="10.2" width="3.8" height="2.5" rx=".9" fill="#c9b3a8" stroke="#3a2a2a" stroke-width=".9"/><path d="M6.7 11h1M16.3 11h1" stroke="#3a2a2a" stroke-width=".8"/><path d="M9.8 16.6c1.3.9 3.1.9 4.4 0" stroke="#f7efeb" stroke-width="1.1" fill="none"/><path d="M14 24c.5-2 1.5-3 3-3.6 1.5.6 3 1.6 3.5 3.6z" fill="#aebfd6"/></g></g></svg>
<span class="c rec" style="left:808.1px;top:7px;width:83.7px;letter-spacing:0.22px;">Mitchell Admin</span>
<span id="t56" class="c" style="left:897.9px;top:7px;letter-spacing:0.37px;">11/03/2021</span>
</div>
<div class="r" role="row" style="top:205px;height:32px">
<span class="cb"></span>
<span id="t57" class="c" style="left:42.3px;top:7px;letter-spacing:0.01px;">Meldona Thang</span>
<span id="t58" class="c" style="left:157.4px;top:7px;letter-spacing:-0.07px;">Marketing and C<span class="el">...</span></span>
<span id="t59" class="c" style="left:273px;top:7px;letter-spacing:-0.24px;">Sales</span>
<span id="t60" class="c" style="left:387.8px;top:7px;letter-spacing:0.09px;">Initial Qualificati<span class="el">...</span></span>
<svg style="position:absolute;left:503px;top:4px;" width="60" height="17" viewBox="0 0 60 17" aria-hidden="true"><path transform="translate(0.1 0) scale(.7)" d="M11.8 0.8L15.1 8L22.9 8.8L17 14.1L18.7 21.8L11.8 17.9L5 21.8L6.7 14.1L0.8 8.8L8.6 8z" fill="#f3cc00" stroke="#f3cc00" stroke-width="1.6" stroke-linejoin="round"/><path transform="translate(21.4 0) scale(.7)" d="M11.8 0.8L15.1 8L22.9 8.8L17 14.1L18.7 21.8L11.8 17.9L5 21.8L6.7 14.1L0.8 8.8L8.6 8z" fill="#fff" fill-opacity=".5" stroke="#737a8d" stroke-width="1.5" stroke-linejoin="miter"/><path transform="translate(42.7 0) scale(.7)" d="M11.8 0.8L15.1 8L22.9 8.8L17 14.1L18.7 21.8L11.8 17.9L5 21.8L6.7 14.1L0.8 8.8L8.6 8z" fill="#fff" fill-opacity=".5" stroke="#737a8d" stroke-width="1.5" stroke-linejoin="miter"/></svg>
<a id="t61" class="tel" style="left:594.5px;top:7px;letter-spacing:0.08px;">998655451<span class="el">...</span></a>
<span class="tag ts" style="left:709px;top:6px;width:43.9px;background:#30c381;color:#111827"><b id="g62" style="left:7.7px;letter-spacing:-0.22px;">Sales</b></span>
<svg style="position:absolute;left:782.1px;top:6px;" width="18.8" height="18.8" viewBox="0 0 24 24" aria-hidden="true"><clipPath id="cp7"><circle cx="12" cy="12" r="12"/></clipPath><filter id="bl7" x="-10%" y="-10%" width="120%" height="120%"><feGaussianBlur stdDeviation=".55"/></filter><g clip-path="url(#cp7)"><g filter="url(#bl7)"><rect width="24" height="24" fill="#85736c"/><rect x="17" y="0" width="7" height="24" fill="#7a6a68"/><path d="M5.5 11.5C4.8 6 7.5 3 11.5 3s6.7 3 6 8.5c-.6-2.5-1.5-4-3-4.8H8.5c-1.5.8-2.4 2.3-3 4.8z" fill="#38272c"/><path d="M3 24c.3-3 3-4.8 8.5-4.8s8.2 1.8 8.5 4.8z" fill="#4b3d44"/><rect x="9.5" y="17" width="4" height="4" fill="#b98f78"/><ellipse cx="11.5" cy="13" rx="4.3" ry="6" fill="#c9a088"/><path d="M8.3 11.8h2.2M12.6 11.8h2.2" stroke="#4a3434" stroke-width="1"/><path d="M10.3 16.6h2.5" stroke="#8a5a4c" stroke-width=".8"/></g></g></svg>
<span id="t63" class="c" style="left:808.1px;top:7px;letter-spacing:0.06px;">Marc Demo</span>
<span id="t64" class="c" style="left:897.9px;top:7px;letter-spacing:0.37px;">11/03/2021</span>
</div>
<div class="r odd" role="row" style="top:237px;height:32px">
<span class="cb"></span>
<span id="t65" class="c" style="left:42.3px;top:7px;letter-spacing:-0.05px;">Enrique Jones</span>
<span id="t66" class="c" style="left:157.4px;top:7px;letter-spacing:-0.07px;">Marketing and C<span class="el">...</span></span>
<span id="t67" class="c" style="left:273px;top:7px;letter-spacing:-0.14px;">Sales Manager</span>
<span id="t68" class="c" style="left:387.8px;top:7px;letter-spacing:0.09px;">Initial Qualificati<span class="el">...</span></span>
<svg style="position:absolute;left:503px;top:4px;" width="60" height="17" viewBox="0 0 60 17" aria-hidden="true"><path transform="translate(0.1 0) scale(.7)" d="M11.8 0.8L15.1 8L22.9 8.8L17 14.1L18.7 21.8L11.8 17.9L5 21.8L6.7 14.1L0.8 8.8L8.6 8z" fill="#f3cc00" stroke="#f3cc00" stroke-width="1.6" stroke-linejoin="round"/><path transform="translate(21.4 0) scale(.7)" d="M11.8 0.8L15.1 8L22.9 8.8L17 14.1L18.7 21.8L11.8 17.9L5 21.8L6.7 14.1L0.8 8.8L8.6 8z" fill="#fff" fill-opacity=".5" stroke="#737a8d" stroke-width="1.5" stroke-linejoin="miter"/><path transform="translate(42.7 0) scale(.7)" d="M11.8 0.8L15.1 8L22.9 8.8L17 14.1L18.7 21.8L11.8 17.9L5 21.8L6.7 14.1L0.8 8.8L8.6 8z" fill="#fff" fill-opacity=".5" stroke="#737a8d" stroke-width="1.5" stroke-linejoin="miter"/></svg>
<a id="t69" class="tel" style="left:594.5px;top:7px;letter-spacing:0.06px;">9963214587<span class="el">...</span></a>
<span class="tag ts" style="left:709px;top:6px;width:43.9px;background:#30c381;color:#111827"><b id="g70" style="left:7.7px;letter-spacing:-0.22px;">Sales</b></span>
<svg style="position:absolute;left:782.1px;top:6px;" width="18.8" height="18.8" viewBox="0 0 24 24" aria-hidden="true"><clipPath id="cp8"><circle cx="12" cy="12" r="12"/></clipPath><filter id="bl8" x="-10%" y="-10%" width="120%" height="120%"><feGaussianBlur stdDeviation=".55"/></filter><g clip-path="url(#cp8)"><g filter="url(#bl8)"><rect width="24" height="24" fill="#85736c"/><rect x="17" y="0" width="7" height="24" fill="#7a6a68"/><path d="M5.5 11.5C4.8 6 7.5 3 11.5 3s6.7 3 6 8.5c-.6-2.5-1.5-4-3-4.8H8.5c-1.5.8-2.4 2.3-3 4.8z" fill="#38272c"/><path d="M3 24c.3-3 3-4.8 8.5-4.8s8.2 1.8 8.5 4.8z" fill="#4b3d44"/><rect x="9.5" y="17" width="4" height="4" fill="#b98f78"/><ellipse cx="11.5" cy="13" rx="4.3" ry="6" fill="#c9a088"/><path d="M8.3 11.8h2.2M12.6 11.8h2.2" stroke="#4a3434" stroke-width="1"/><path d="M10.3 16.6h2.5" stroke="#8a5a4c" stroke-width=".8"/></g></g></svg>
<span id="t71" class="c" style="left:808.1px;top:7px;letter-spacing:0.06px;">Marc Demo</span>
<span id="t72" class="c" style="left:897.9px;top:7px;letter-spacing:0.37px;">11/03/2021</span>
</div>
<div class="r" role="row" style="top:269px;height:31px">
<span class="cb"></span>
<span id="t73" class="c" style="left:42.3px;top:7px;letter-spacing:0.02px;">james</span>
<span id="t74" class="c" style="left:157.4px;top:7px;letter-spacing:-0.13px;">Sales Manager</span>
<span id="t75" class="c" style="left:273px;top:7px;letter-spacing:-0.12px;">james - Sales M<span class="el">...</span></span>
<span id="t76" class="c" style="left:387.8px;top:7px;letter-spacing:0.09px;">Initial Qualificati<span class="el">...</span></span>
<svg style="position:absolute;left:503px;top:4px;" width="60" height="17" viewBox="0 0 60 17" aria-hidden="true"><path transform="translate(0.1 0) scale(.7)" d="M11.8 0.8L15.1 8L22.9 8.8L17 14.1L18.7 21.8L11.8 17.9L5 21.8L6.7 14.1L0.8 8.8L8.6 8z" fill="#fff" fill-opacity=".5" stroke="#737a8d" stroke-width="1.5" stroke-linejoin="miter"/><path transform="translate(21.4 0) scale(.7)" d="M11.8 0.8L15.1 8L22.9 8.8L17 14.1L18.7 21.8L11.8 17.9L5 21.8L6.7 14.1L0.8 8.8L8.6 8z" fill="#fff" fill-opacity=".5" stroke="#737a8d" stroke-width="1.5" stroke-linejoin="miter"/><path transform="translate(42.7 0) scale(.7)" d="M11.8 0.8L15.1 8L22.9 8.8L17 14.1L18.7 21.8L11.8 17.9L5 21.8L6.7 14.1L0.8 8.8L8.6 8z" fill="#fff" fill-opacity=".5" stroke="#737a8d" stroke-width="1.5" stroke-linejoin="miter"/></svg>
<svg style="position:absolute;left:782.1px;top:6px;" width="18.8" height="18.8" viewBox="0 0 24 24" aria-hidden="true"><clipPath id="cp9"><circle cx="12" cy="12" r="12"/></clipPath><filter id="bl9" x="-10%" y="-10%" width="120%" height="120%"><feGaussianBlur stdDeviation=".55"/></filter><g clip-path="url(#cp9)"><g filter="url(#bl9)"><rect width="24" height="24" fill="#916d4b"/><rect x="0" y="0" width="6.5" height="24" fill="#7c5a3d"/><rect x="16.5" y="3" width="7.5" height="18" fill="#a98258"/><path d="M4.3 10.5C3.5 4.5 7 1.2 12 1.2s8.3 3 7.5 9c-.5-2-1.3-3.6-3-4.7-2.5-.5-6-.5-8.6 0-1.9 1.2-3 2.8-3.6 5z" fill="#231718"/><path d="M6.5 24c.2-6 1-8.5 5.5-8.5s5.5 2.5 6 8.5z" fill="#cda58e"/><ellipse cx="12" cy="12.6" rx="5.3" ry="6.9" fill="#c99f88"/><ellipse cx="12" cy="8.4" rx="3.9" ry="2" fill="#ead5ca"/><rect x="7.6" y="10.2" width="3.8" height="2.5" rx=".9" fill="#c9b3a8" stroke="#3a2a2a" stroke-width=".9"/><rect x="12.6" y="10.2" width="3.8" height="2.5" rx=".9" fill="#c9b3a8" stroke="#3a2a2a" stroke-width=".9"/><path d="M6.7 11h1M16.3 11h1" stroke="#3a2a2a" stroke-width=".8"/><path d="M9.8 16.6c1.3.9 3.1.9 4.4 0" stroke="#f7efeb" stroke-width="1.1" fill="none"/><path d="M14 24c.5-2 1.5-3 3-3.6 1.5.6 3 1.6 3.5 3.6z" fill="#aebfd6"/></g></g></svg>
<span class="c rec" style="left:808.1px;top:7px;width:83.7px;letter-spacing:0.22px;">Mitchell Admin</span>
<span id="t77" class="c" style="left:897.9px;top:7px;letter-spacing:0.37px;">11/03/2021</span>
</div>
<div class="r odd" role="row" style="top:300px;height:32px">
<span class="cb"></span>
<span id="t78" class="c" style="left:42.3px;top:7px;letter-spacing:-0.2px;">David Billy</span>
<span id="t79" class="c" style="left:157.4px;top:7px;letter-spacing:0.05px;">Consultant</span>
<span id="t80" class="c" style="left:273px;top:7px;letter-spacing:0.05px;">Advertisement</span>
<span id="t81" class="c" style="left:387.8px;top:7px;letter-spacing:-0.03px;">First Interview</span>
<svg style="position:absolute;left:503px;top:4px;" width="60" height="17" viewBox="0 0 60 17" aria-hidden="true"><path transform="translate(0.1 0) scale(.7)" d="M11.8 0.8L15.1 8L22.9 8.8L17 14.1L18.7 21.8L11.8 17.9L5 21.8L6.7 14.1L0.8 8.8L8.6 8z" fill="#fff" fill-opacity=".5" stroke="#737a8d" stroke-width="1.5" stroke-linejoin="miter"/><path transform="translate(21.4 0) scale(.7)" d="M11.8 0.8L15.1 8L22.9 8.8L17 14.1L18.7 21.8L11.8 17.9L5 21.8L6.7 14.1L0.8 8.8L8.6 8z" fill="#fff" fill-opacity=".5" stroke="#737a8d" stroke-width="1.5" stroke-linejoin="miter"/><path transform="translate(42.7 0) scale(.7)" d="M11.8 0.8L15.1 8L22.9 8.8L17 14.1L18.7 21.8L11.8 17.9L5 21.8L6.7 14.1L0.8 8.8L8.6 8z" fill="#fff" fill-opacity=".5" stroke="#737a8d" stroke-width="1.5" stroke-linejoin="miter"/></svg>
<a id="t82" class="tel" style="left:594.5px;top:7px;letter-spacing:0.06px;">9988774455<span class="el">...</span></a>
<span class="tag ti" style="left:709px;top:6px;width:25px;background:#30c381;color:#111827"><b id="g83" style="left:7.5px;letter-spacing:-0.35px;">IT</b></span>
<svg style="position:absolute;left:782.1px;top:6px;" width="18.8" height="18.8" viewBox="0 0 24 24" aria-hidden="true"><clipPath id="cp10"><circle cx="12" cy="12" r="12"/></clipPath><filter id="bl10" x="-10%" y="-10%" width="120%" height="120%"><feGaussianBlur stdDeviation=".55"/></filter><g clip-path="url(#cp10)"><g filter="url(#bl10)"><rect width="24" height="24" fill="#916d4b"/><rect x="0" y="0" width="6.5" height="24" fill="#7c5a3d"/><rect x="16.5" y="3" width="7.5" height="18" fill="#a98258"/><path d="M4.3 10.5C3.5 4.5 7 1.2 12 1.2s8.3 3 7.5 9c-.5-2-1.3-3.6-3-4.7-2.5-.5-6-.5-8.6 0-1.9 1.2-3 2.8-3.6 5z" fill="#231718"/><path d="M6.5 24c.2-6 1-8.5 5.5-8.5s5.5 2.5 6 8.5z" fill="#cda58e"/><ellipse cx="12" cy="12.6" rx="5.3" ry="6.9" fill="#c99f88"/><ellipse cx="12" cy="8.4" rx="3.9" ry="2" fill="#ead5ca"/><rect x="7.6" y="10.2" width="3.8" height="2.5" rx=".9" fill="#c9b3a8" stroke="#3a2a2a" stroke-width=".9"/><rect x="12.6" y="10.2" width="3.8" height="2.5" rx=".9" fill="#c9b3a8" stroke="#3a2a2a" stroke-width=".9"/><path d="M6.7 11h1M16.3 11h1" stroke="#3a2a2a" stroke-width=".8"/><path d="M9.8 16.6c1.3.9 3.1.9 4.4 0" stroke="#f7efeb" stroke-width="1.1" fill="none"/><path d="M14 24c.5-2 1.5-3 3-3.6 1.5.6 3 1.6 3.5 3.6z" fill="#aebfd6"/></g></g></svg>
<span class="c rec" style="left:808.1px;top:7px;width:83.7px;letter-spacing:0.22px;">Mitchell Admin</span>
<span id="t84" class="c" style="left:897.9px;top:7px;letter-spacing:0.37px;">11/03/2021</span>
</div>
<div class="r" role="row" style="top:332px;height:32px">
<span class="cb"></span>
<span id="t85" class="c" style="left:42.3px;top:7px;letter-spacing:-0.07px;">Shane Williams</span>
<span id="t86" class="c" style="left:157.4px;top:7px;letter-spacing:-0.25px;">Experienced Dev<span class="el">...</span></span>
<span id="t87" class="c" style="left:273px;top:7px;letter-spacing:-0.03px;">Programmer</span>
<span id="t88" class="c" style="left:387.8px;top:7px;letter-spacing:0.03px;">Contract Proposal</span>
<svg style="position:absolute;left:503px;top:4px;" width="60" height="17" viewBox="0 0 60 17" aria-hidden="true"><path transform="translate(0.1 0) scale(.7)" d="M11.8 0.8L15.1 8L22.9 8.8L17 14.1L18.7 21.8L11.8 17.9L5 21.8L6.7 14.1L0.8 8.8L8.6 8z" fill="#fff" fill-opacity=".5" stroke="#737a8d" stroke-width="1.5" stroke-linejoin="miter"/><path transform="translate(21.4 0) scale(.7)" d="M11.8 0.8L15.1 8L22.9 8.8L17 14.1L18.7 21.8L11.8 17.9L5 21.8L6.7 14.1L0.8 8.8L8.6 8z" fill="#fff" fill-opacity=".5" stroke="#737a8d" stroke-width="1.5" stroke-linejoin="miter"/><path transform="translate(42.7 0) scale(.7)" d="M11.8 0.8L15.1 8L22.9 8.8L17 14.1L18.7 21.8L11.8 17.9L5 21.8L6.7 14.1L0.8 8.8L8.6 8z" fill="#fff" fill-opacity=".5" stroke="#737a8d" stroke-width="1.5" stroke-linejoin="miter"/></svg>
<a id="t89" class="tel" style="left:594.5px;top:7px;letter-spacing:0.06px;">9812398524<span class="el">...</span></a>
<span class="tag ti" style="left:709px;top:6px;width:25px;background:#30c381;color:#111827"><b id="g90" style="left:7.5px;letter-spacing:-0.35px;">IT</b></span>
<svg style="position:absolute;left:782.1px;top:6px;" width="18.8" height="18.8" viewBox="0 0 24 24" aria-hidden="true"><clipPath id="cp11"><circle cx="12" cy="12" r="12"/></clipPath><filter id="bl11" x="-10%" y="-10%" width="120%" height="120%"><feGaussianBlur stdDeviation=".55"/></filter><g clip-path="url(#cp11)"><g filter="url(#bl11)"><rect width="24" height="24" fill="#916d4b"/><rect x="0" y="0" width="6.5" height="24" fill="#7c5a3d"/><rect x="16.5" y="3" width="7.5" height="18" fill="#a98258"/><path d="M4.3 10.5C3.5 4.5 7 1.2 12 1.2s8.3 3 7.5 9c-.5-2-1.3-3.6-3-4.7-2.5-.5-6-.5-8.6 0-1.9 1.2-3 2.8-3.6 5z" fill="#231718"/><path d="M6.5 24c.2-6 1-8.5 5.5-8.5s5.5 2.5 6 8.5z" fill="#cda58e"/><ellipse cx="12" cy="12.6" rx="5.3" ry="6.9" fill="#c99f88"/><ellipse cx="12" cy="8.4" rx="3.9" ry="2" fill="#ead5ca"/><rect x="7.6" y="10.2" width="3.8" height="2.5" rx=".9" fill="#c9b3a8" stroke="#3a2a2a" stroke-width=".9"/><rect x="12.6" y="10.2" width="3.8" height="2.5" rx=".9" fill="#c9b3a8" stroke="#3a2a2a" stroke-width=".9"/><path d="M6.7 11h1M16.3 11h1" stroke="#3a2a2a" stroke-width=".8"/><path d="M9.8 16.6c1.3.9 3.1.9 4.4 0" stroke="#f7efeb" stroke-width="1.1" fill="none"/><path d="M14 24c.5-2 1.5-3 3-3.6 1.5.6 3 1.6 3.5 3.6z" fill="#aebfd6"/></g></g></svg>
<span class="c rec" style="left:808.1px;top:7px;width:83.7px;letter-spacing:0.22px;">Mitchell Admin</span>
<span id="t91" class="c" style="left:897.9px;top:7px;letter-spacing:0.37px;">11/03/2021</span>
</div>
<div class="r odd hov" role="row" style="top:364px;height:32px">
<span class="cb"></span>
<span id="t92" class="c" style="left:42.3px;top:7px;letter-spacing:0.1px;">Tina Augustie</span>
<span id="t93" class="c" style="left:157.4px;top:7px;letter-spacing:-0.09px;">Trainee</span>
<span id="t94" class="c" style="left:273px;top:7px;letter-spacing:-0.26px;">Trainee - MCA</span>
<span id="t95" class="c" style="left:387.8px;top:7px;letter-spacing:0.03px;">Contract Proposal</span>
<svg style="position:absolute;left:503px;top:4px;" width="60" height="17" viewBox="0 0 60 17" aria-hidden="true"><path transform="translate(0.1 0) scale(.7)" d="M11.8 0.8L15.1 8L22.9 8.8L17 14.1L18.7 21.8L11.8 17.9L5 21.8L6.7 14.1L0.8 8.8L8.6 8z" fill="#fff" fill-opacity=".5" stroke="#737a8d" stroke-width="1.5" stroke-linejoin="miter"/><path transform="translate(21.4 0) scale(.7)" d="M11.8 0.8L15.1 8L22.9 8.8L17 14.1L18.7 21.8L11.8 17.9L5 21.8L6.7 14.1L0.8 8.8L8.6 8z" fill="#fff" fill-opacity=".5" stroke="#737a8d" stroke-width="1.5" stroke-linejoin="miter"/><path transform="translate(42.7 0) scale(.7)" d="M11.8 0.8L15.1 8L22.9 8.8L17 14.1L18.7 21.8L11.8 17.9L5 21.8L6.7 14.1L0.8 8.8L8.6 8z" fill="#fff" fill-opacity=".5" stroke="#737a8d" stroke-width="1.5" stroke-linejoin="miter"/></svg>
<a id="t96" class="tel" style="left:594.5px;top:7px;letter-spacing:0.06px;">9898745745<span class="el">...</span></a>
<span class="tag ts" style="left:709px;top:6px;width:43.9px;background:#30c381;color:#111827"><b id="g97" style="left:7.7px;letter-spacing:-0.22px;">Sales</b></span>
<svg style="position:absolute;left:782.1px;top:6px;" width="18.8" height="18.8" viewBox="0 0 24 24" aria-hidden="true"><clipPath id="cp12"><circle cx="12" cy="12" r="12"/></clipPath><filter id="bl12" x="-10%" y="-10%" width="120%" height="120%"><feGaussianBlur stdDeviation=".55"/></filter><g clip-path="url(#cp12)"><g filter="url(#bl12)"><rect width="24" height="24" fill="#916d4b"/><rect x="0" y="0" width="6.5" height="24" fill="#7c5a3d"/><rect x="16.5" y="3" width="7.5" height="18" fill="#a98258"/><path d="M4.3 10.5C3.5 4.5 7 1.2 12 1.2s8.3 3 7.5 9c-.5-2-1.3-3.6-3-4.7-2.5-.5-6-.5-8.6 0-1.9 1.2-3 2.8-3.6 5z" fill="#231718"/><path d="M6.5 24c.2-6 1-8.5 5.5-8.5s5.5 2.5 6 8.5z" fill="#cda58e"/><ellipse cx="12" cy="12.6" rx="5.3" ry="6.9" fill="#c99f88"/><ellipse cx="12" cy="8.4" rx="3.9" ry="2" fill="#ead5ca"/><rect x="7.6" y="10.2" width="3.8" height="2.5" rx=".9" fill="#c9b3a8" stroke="#3a2a2a" stroke-width=".9"/><rect x="12.6" y="10.2" width="3.8" height="2.5" rx=".9" fill="#c9b3a8" stroke="#3a2a2a" stroke-width=".9"/><path d="M6.7 11h1M16.3 11h1" stroke="#3a2a2a" stroke-width=".8"/><path d="M9.8 16.6c1.3.9 3.1.9 4.4 0" stroke="#f7efeb" stroke-width="1.1" fill="none"/><path d="M14 24c.5-2 1.5-3 3-3.6 1.5.6 3 1.6 3.5 3.6z" fill="#aebfd6"/></g></g></svg>
<span class="c rec" style="left:808.1px;top:7px;width:83.7px;letter-spacing:0.22px;">Mitchell Admin</span>
<span id="t98" class="c" style="left:897.9px;top:7px;letter-spacing:0.37px;">11/03/2021</span>
</div>
<div class="r" role="row" style="top:396px;height:32px">
<span class="cb"></span>
<span id="t99" class="c" style="left:42.3px;top:7px;letter-spacing:-0.24px;">Sandra Elvis</span>
<span id="t100" class="c" style="left:157.4px;top:7px;letter-spacing:-0.25px;">Experienced Dev<span class="el">...</span></span>
<span id="t101" class="c" style="left:273px;top:7px;letter-spacing:-0.06px;">More than 5 yrs <span class="el">...</span></span>
<span id="t102" class="c" style="left:387.8px;top:7px;letter-spacing:-0.06px;">Contract Signed</span>
<svg style="position:absolute;left:503px;top:4px;" width="60" height="17" viewBox="0 0 60 17" aria-hidden="true"><path transform="translate(0.1 0) scale(.7)" d="M11.8 0.8L15.1 8L22.9 8.8L17 14.1L18.7 21.8L11.8 17.9L5 21.8L6.7 14.1L0.8 8.8L8.6 8z" fill="#fff" fill-opacity=".5" stroke="#737a8d" stroke-width="1.5" stroke-linejoin="miter"/><path transform="translate(21.4 0) scale(.7)" d="M11.8 0.8L15.1 8L22.9 8.8L17 14.1L18.7 21.8L11.8 17.9L5 21.8L6.7 14.1L0.8 8.8L8.6 8z" fill="#fff" fill-opacity=".5" stroke="#737a8d" stroke-width="1.5" stroke-linejoin="miter"/><path transform="translate(42.7 0) scale(.7)" d="M11.8 0.8L15.1 8L22.9 8.8L17 14.1L18.7 21.8L11.8 17.9L5 21.8L6.7 14.1L0.8 8.8L8.6 8z" fill="#fff" fill-opacity=".5" stroke="#737a8d" stroke-width="1.5" stroke-linejoin="miter"/></svg>
<span class="tag tr" style="left:709px;top:6px;width:58.1px;background:#eb7e7f;color:#111827"><b id="g103" style="left:7.7px;letter-spacing:-0.15px;">Reserve</b></span>
<svg style="position:absolute;left:782.1px;top:6px;" width="18.8" height="18.8" viewBox="0 0 24 24" aria-hidden="true"><clipPath id="cp13"><circle cx="12" cy="12" r="12"/></clipPath><filter id="bl13" x="-10%" y="-10%" width="120%" height="120%"><feGaussianBlur stdDeviation=".55"/></filter><g clip-path="url(#cp13)"><g filter="url(#bl13)"><rect width="24" height="24" fill="#85736c"/><rect x="17" y="0" width="7" height="24" fill="#7a6a68"/><path d="M5.5 11.5C4.8 6 7.5 3 11.5 3s6.7 3 6 8.5c-.6-2.5-1.5-4-3-4.8H8.5c-1.5.8-2.4 2.3-3 4.8z" fill="#38272c"/><path d="M3 24c.3-3 3-4.8 8.5-4.8s8.2 1.8 8.5 4.8z" fill="#4b3d44"/><rect x="9.5" y="17" width="4" height="4" fill="#b98f78"/><ellipse cx="11.5" cy="13" rx="4.3" ry="6" fill="#c9a088"/><path d="M8.3 11.8h2.2M12.6 11.8h2.2" stroke="#4a3434" stroke-width="1"/><path d="M10.3 16.6h2.5" stroke="#8a5a4c" stroke-width=".8"/></g></g></svg>
<span id="t104" class="c" style="left:808.1px;top:7px;letter-spacing:0.06px;">Marc Demo</span>
<span id="t105" class="c" style="left:897.9px;top:7px;letter-spacing:0.25px;">10/08/2021</span>
</div>
<div class="r odd" role="row" style="top:428px;height:32px">
<span class="cb"></span>
<span id="t106" class="c" style="left:42.3px;top:7px;letter-spacing:-0.02px;">John Bruno</span>
<span id="t107" class="c" style="left:157.4px;top:7px;letter-spacing:-0.07px;">Marketing and C<span class="el">...</span></span>
<span id="t108" class="c" style="left:273px;top:7px;letter-spacing:0.11px;">Marketing Job</span>
<span id="t109" class="c" style="left:387.8px;top:7px;letter-spacing:-0.06px;">Contract Signed</span>
<svg style="position:absolute;left:503px;top:4px;" width="60" height="17" viewBox="0 0 60 17" aria-hidden="true"><path transform="translate(0.1 0) scale(.7)" d="M11.8 0.8L15.1 8L22.9 8.8L17 14.1L18.7 21.8L11.8 17.9L5 21.8L6.7 14.1L0.8 8.8L8.6 8z" fill="#fff" fill-opacity=".5" stroke="#737a8d" stroke-width="1.5" stroke-linejoin="miter"/><path transform="translate(21.4 0) scale(.7)" d="M11.8 0.8L15.1 8L22.9 8.8L17 14.1L18.7 21.8L11.8 17.9L5 21.8L6.7 14.1L0.8 8.8L8.6 8z" fill="#fff" fill-opacity=".5" stroke="#737a8d" stroke-width="1.5" stroke-linejoin="miter"/><path transform="translate(42.7 0) scale(.7)" d="M11.8 0.8L15.1 8L22.9 8.8L17 14.1L18.7 21.8L11.8 17.9L5 21.8L6.7 14.1L0.8 8.8L8.6 8z" fill="#fff" fill-opacity=".5" stroke="#737a8d" stroke-width="1.5" stroke-linejoin="miter"/></svg>
<span class="tag tm" style="left:709px;top:6px;width:62.1px;background:#f06050;color:#fff"><b id="g110" style="left:7.2px;letter-spacing:-0.25px;">Manager</b></span>
<svg style="position:absolute;left:782.1px;top:6px;" width="18.8" height="18.8" viewBox="0 0 24 24" aria-hidden="true"><clipPath id="cp14"><circle cx="12" cy="12" r="12"/></clipPath><filter id="bl14" x="-10%" y="-10%" width="120%" height="120%"><feGaussianBlur stdDeviation=".55"/></filter><g clip-path="url(#cp14)"><g filter="url(#bl14)"><rect width="24" height="24" fill="#916d4b"/><rect x="0" y="0" width="6.5" height="24" fill="#7c5a3d"/><rect x="16.5" y="3" width="7.5" height="18" fill="#a98258"/><path d="M4.3 10.5C3.5 4.5 7 1.2 12 1.2s8.3 3 7.5 9c-.5-2-1.3-3.6-3-4.7-2.5-.5-6-.5-8.6 0-1.9 1.2-3 2.8-3.6 5z" fill="#231718"/><path d="M6.5 24c.2-6 1-8.5 5.5-8.5s5.5 2.5 6 8.5z" fill="#cda58e"/><ellipse cx="12" cy="12.6" rx="5.3" ry="6.9" fill="#c99f88"/><ellipse cx="12" cy="8.4" rx="3.9" ry="2" fill="#ead5ca"/><rect x="7.6" y="10.2" width="3.8" height="2.5" rx=".9" fill="#c9b3a8" stroke="#3a2a2a" stroke-width=".9"/><rect x="12.6" y="10.2" width="3.8" height="2.5" rx=".9" fill="#c9b3a8" stroke="#3a2a2a" stroke-width=".9"/><path d="M6.7 11h1M16.3 11h1" stroke="#3a2a2a" stroke-width=".8"/><path d="M9.8 16.6c1.3.9 3.1.9 4.4 0" stroke="#f7efeb" stroke-width="1.1" fill="none"/><path d="M14 24c.5-2 1.5-3 3-3.6 1.5.6 3 1.6 3.5 3.6z" fill="#aebfd6"/></g></g></svg>
<span class="c rec" style="left:808.1px;top:7px;width:83.7px;letter-spacing:0.22px;">Mitchell Admin</span>
<span id="t111" class="c" style="left:897.9px;top:7px;letter-spacing:0.26px;">09/03/2021</span>
</div>
<span class="gap" style="left:267.8px"></span>
<span class="gap" style="left:497.8px"></span>
<span class="gap" style="left:589.9px"></span>
<span class="gap" style="left:776.9px"></span>
<span class="gap" style="left:891.9px"></span>
</main>
<div class="sb"><span class="thumb"></span>
<svg style="position:absolute;left:0;top:6px" width="16" height="6" viewBox="0 0 16 6" aria-hidden="true"><path d="M4.6 5.2L8.5.800l3.9 4.4z" fill="#9b9b9b"/></svg>
<svg style="position:absolute;left:0;top:451px" width="16" height="6" viewBox="0 0 16 6" aria-hidden="true"><path d="M4.6.800L8.5 5.2l3.9-4.4z" fill="#505050"/></svg>
</div>
</body>
</html>
